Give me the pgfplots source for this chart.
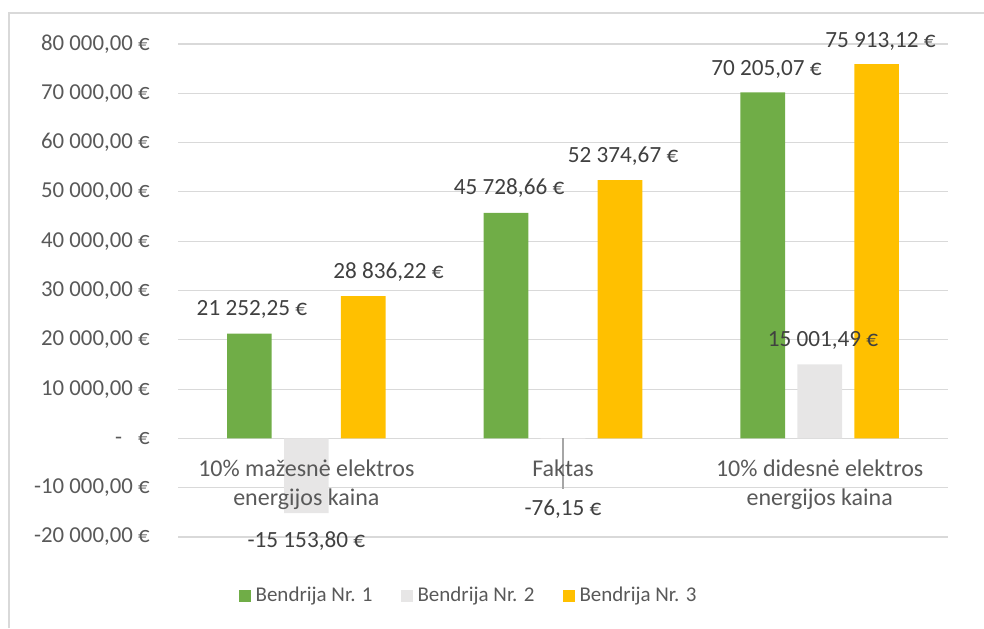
\documentclass[border=0pt]{standalone}
\usepackage{fontspec}
\setmainfont{Carlito}
\usepackage{pgfplots}
\pgfplotsset{compat=1.18}

\definecolor{grnbar}{HTML}{70AD47}
\definecolor{grybar}{HTML}{E7E6E6}
\definecolor{goldbar}{HTML}{FFC000}
\definecolor{txtgray}{HTML}{595959}
\definecolor{lblgray}{HTML}{404040}
\definecolor{gridgray}{HTML}{D9D9D9}
\definecolor{leadgray}{HTML}{A6A6A6}

\tikzset{
    lbl/.style={anchor=base, inner sep=0pt, text=lblgray, font=\fontsize{11.6}{14}\selectfont},
    cat/.style={anchor=base, inner sep=0pt, text=txtgray, font=\fontsize{12}{14}\selectfont},
}

\begin{document}
\fontsize{11}{13.5}\selectfont
\begin{tikzpicture}
\useasboundingbox (0,0) rectangle (492pt,314pt);
% chart frame (only top and left are in view)
\draw[gridgray, line width=0.8pt] (4.5pt,0) -- (4.5pt,307.5pt) -- (492pt,307.5pt);

\begin{axis}[
    at={(89pt,45.5pt)}, anchor=south west,
    scale only axis, width=385pt, height=246.5pt,
    ybar, bar width=0.174,
    xmin=-0.5, xmax=2.5,
    ymin=-20000, ymax=80000,
    xtick=\empty,
    scaled y ticks=false,
    ytick={-20000,-10000,0,10000,20000,30000,40000,50000,60000,70000,80000},
    yticklabels={{-20 000,00 €},{-10 000,00 €},{-\hspace{8pt}€},{10 000,00 €},{20 000,00 €},{30 000,00 €},{40 000,00 €},{50 000,00 €},{60 000,00 €},{70 000,00 €},{80 000,00 €}},
    yticklabel style={text=txtgray, anchor=east, inner sep=0pt, xshift=-14pt,
        font=\fontsize{11.4}{13.5}\selectfont},
    ymajorgrids, grid style={gridgray, line width=0.6pt},
    major tick length=0,
    axis line style={draw=none},
    clip=false,
    legend columns=3,
    legend style={at={(0.376,-0.1197)}, anchor=center, draw=none, fill=none,
        text=txtgray, font=\fontsize{10.5}{13}\selectfont, nodes={inner sep=0pt},
        /tikz/every odd column/.append style={column sep=2.5pt},
        /tikz/every even column/.append style={column sep=14pt}},
    legend image code/.code={\fill[#1] (0pt,-3pt) rectangle (6pt,3pt);},
]
\addplot[fill=grnbar, draw=none, bar shift=-0.222] coordinates {(0,21252.25) (1,45728.66) (2,70205.07)};
\addlegendentry{Bendrija Nr. 1}
\addplot[fill=grybar, draw=none, bar shift=0] coordinates {(0,-15153.80) (1,-76.15) (2,15001.49)};
\addlegendentry{Bendrija Nr. 2}
\addplot[fill=goldbar, draw=none, bar shift=0.222] coordinates {(0,28836.22) (1,52374.67) (2,75913.12)};
\addlegendentry{Bendrija Nr. 3}

% leader line of the tiny Faktas bar
\draw[leadgray, line width=0.6pt] (axis cs:1,0) -- (axis cs:1,-10345);

% category labels
\node[cat] at (axis cs:0,-7708) {10\% mažesnė elektros};
\node[cat] at (axis cs:0,-13590) {energijos kaina};
\node[cat] at (axis cs:1,-7708) {Faktas};
\node[cat] at (axis cs:2,-7708) {10\% didesnė elektros};
\node[cat] at (axis cs:2,-13590) {energijos kaina};

% data labels
\node[lbl] at (axis cs:-0.212,24949) {21 252,25 €};
\node[lbl] at (axis cs:0.320,32454) {28 836,22 €};
\node[lbl] at (axis cs:0,-22110) {-15 153,80 €};
\node[lbl] at (axis cs:0.790,49493) {45 728,66 €};
\node[lbl] at (axis cs:1.234,55984) {52 374,67 €};
\node[lbl] at (axis cs:1,-15619) {-76,15 €};
\node[lbl] at (axis cs:1.793,73631) {70 205,07 €};
\node[lbl] at (axis cs:2.237,79310) {75 913,12 €};
\node[lbl] at (axis cs:2.013,18661) {15 001,49 €};
\end{axis}
\end{tikzpicture}
\end{document}
